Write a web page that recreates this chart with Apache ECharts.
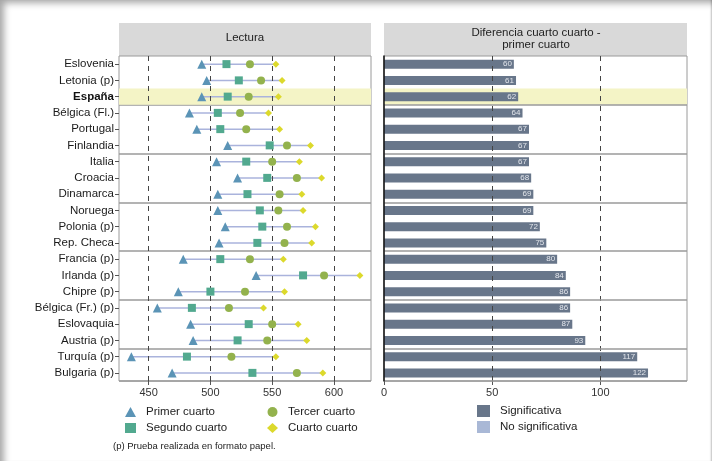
<!DOCTYPE html>
<html>
<head>
<meta charset="utf-8">
<script src="https://cdn.jsdelivr.net/npm/echarts@6/dist/echarts.min.js"></script>
<style>
  html, body { margin: 0; padding: 0; background: #fff; }
  #chart { position: absolute; left: 0; top: 0; width: 712px; height: 461px; }
  #marco { position: absolute; left: 0; top: 0; width: 712px; height: 461px; pointer-events: none;
           box-shadow: inset 7px 6px 7px -3px rgba(0,0,0,0.35), inset -2px 0 2px -1px rgba(0,0,0,0.25); }
</style>
</head>
<body>
<div id="chart"></div>
<div id="marco"></div>
<script>
// datos
const paises = ['Eslovenia', 'Letonia (p)', 'España', 'Bélgica (Fl.)', 'Portugal', 'Finlandia',
  'Italia', 'Croacia', 'Dinamarca', 'Noruega', 'Polonia (p)', 'Rep. Checa',
  'Francia (p)', 'Irlanda (p)', 'Chipre (p)', 'Bélgica (Fr.) (p)', 'Eslovaquia', 'Austria (p)',
  'Turquía (p)', 'Bulgaria (p)'];
const primer  = [493, 497, 493, 483, 489, 514, 505, 522, 506, 506, 512, 507, 478, 537, 474, 457, 484, 486, 436, 469];
const segundo = [513, 523, 514, 506, 508, 548, 529, 546, 530, 540, 542, 538, 508, 575, 500, 485, 531, 522, 481, 534];
const tercer  = [532, 541, 531, 524, 529, 562, 550, 570, 556, 555, 562, 560, 532, 592, 528, 515, 550, 546, 517, 570];
const cuarto  = [553, 558, 555, 547, 556, 581, 572, 590, 574, 575, 585, 582, 559, 621, 560, 543, 571, 578, 553, 591];
const diferencia = [60, 61, 62, 64, 67, 67, 67, 68, 69, 69, 72, 75, 80, 84, 86, 86, 87, 93, 117, 122];
const ticksLectura = [450, 500, 550, 600];
const ticksDif = [0, 50, 100];
const destacado = 'España';

const fuente = 'Liberation Sans, Arial, sans-serif';
const gris = '#9a9a9a';

const chart = echarts.init(document.getElementById('chart'));

const yCat = (show) => ({
  type: 'category', data: paises, inverse: true,
  axisLine: { show: !show, lineStyle: { color: '#111', width: 1.5 } },
  axisTick: { show: show, alignWithLabel: true, length: 4, lineStyle: { color: '#555' } },
  axisLabel: {
    show: show, fontFamily: fuente, fontSize: 11.5, color: '#1a1a1a', margin: 5,
    formatter: v => v === destacado ? '{b|' + v + '}' : v,
    rich: { b: { fontWeight: 'bold', fontFamily: fuente, fontSize: 11.5, color: '#111' } }
  },
  splitLine: { show: true, interval: i => i > 0 && i % 3 === 0, lineStyle: { color: gris, width: 1.5 } }
});

const punto = (name, datos, symbol, size, color) => ({
  name, type: 'scatter', xAxisIndex: 0, yAxisIndex: 0, symbol, symbolSize: size, z: 5,
  itemStyle: { color, opacity: 1 },
  data: datos.map((v, i) => [v, paises[i]])
});

chart.setOption({
  animation: false,
  textStyle: { fontFamily: fuente },
  grid: [
    { left: 119, top: 56, width: 252, height: 325, show: true, borderColor: gris, borderWidth: 1, backgroundColor: '#fff' },
    { left: 384, top: 56, width: 303, height: 325, show: true, borderColor: gris, borderWidth: 1, backgroundColor: '#fff' }
  ],
  graphic: [
    { type: 'rect', left: 119, top: 23, shape: { width: 252, height: 33 }, style: { fill: '#d9d9d9' }, z: -1 },
    { type: 'rect', left: 384, top: 23, shape: { width: 303, height: 33 }, style: { fill: '#d9d9d9' }, z: -1 },
    { type: 'text', x: 245, y: 38, style: { text: 'Lectura', fontFamily: fuente, fontSize: 11.5, fill: '#222', align: 'center', verticalAlign: 'middle' } },
    { type: 'text', x: 536, y: 39, style: { text: 'Diferencia cuarto cuarto -\nprimer cuarto', fontFamily: fuente, fontSize: 11.5, lineHeight: 12, fill: '#222', align: 'center', verticalAlign: 'middle' } },
    { type: 'text', x: 113, y: 446, style: { text: '(p) Prueba realizada en formato papel.', fontFamily: fuente, fontSize: 9.5, fill: '#222', verticalAlign: 'middle' } }
  ],
  xAxis: [
    { type: 'value', gridIndex: 0, min: 426, max: 630,
      axisLine: { show: false }, splitLine: { show: false },
      axisTick: { show: true, customValues: ticksLectura, length: 4, lineStyle: { color: '#555' } },
      axisLabel: { customValues: ticksLectura, fontSize: 11, color: '#333', margin: 6 } },
    { type: 'value', gridIndex: 1, min: 0, max: 140,
      axisLine: { show: false }, splitLine: { show: false },
      axisTick: { show: true, customValues: ticksDif, length: 4, lineStyle: { color: '#555' } },
      axisLabel: { customValues: ticksDif, fontSize: 11, color: '#333', margin: 6 } }
  ],
  yAxis: [
    Object.assign(yCat(true), { gridIndex: 0 }),
    Object.assign(yCat(false), { gridIndex: 1, z: 6 }),
    { type: 'category', gridIndex: 1, data: paises, inverse: true, show: false }
  ],
  legend: [
    { left: 120, top: 401, orient: 'vertical', itemGap: 4, itemWidth: 11, itemHeight: 10,
      textStyle: { fontSize: 11.5, color: '#222', padding: [0, 0, 0, 5] }, data: ['Primer cuarto', 'Segundo cuarto'] },
    { left: 262, top: 401, orient: 'vertical', itemGap: 4, itemWidth: 11, itemHeight: 10,
      textStyle: { fontSize: 11.5, color: '#222', padding: [0, 0, 0, 5] }, data: ['Tercer cuarto', 'Cuarto cuarto'] },
    { left: 472, top: 400, orient: 'vertical', itemGap: 4, itemWidth: 13, itemHeight: 12,
      textStyle: { fontSize: 11.5, color: '#222', padding: [0, 0, 0, 5] },
      data: [{ name: 'Significativa', icon: 'rect' }, { name: 'No significativa', icon: 'rect' }] }
  ],
  series: [
    { name: 'fondo1', type: 'bar', xAxisIndex: 0, yAxisIndex: 0, barWidth: '100%', silent: true, z: 0,
      itemStyle: { color: '#f4f4c6' },
      data: paises.map(p => p === destacado ? 630 : '-'),
      markLine: { silent: true, symbol: 'none', label: { show: false },
        lineStyle: { color: '#444', type: [5, 5], width: 1 },
        data: ticksLectura.map(v => ({ xAxis: v })) } },
    { name: 'rango', type: 'custom', xAxisIndex: 0, yAxisIndex: 0, z: 3, silent: true,
      data: paises.map((p, i) => [primer[i], cuarto[i], i]),
      encode: { x: [0, 1], y: 2 },
      renderItem: (params, api) => {
        const a = api.coord([api.value(0), api.value(2)]);
        const b = api.coord([api.value(1), api.value(2)]);
        return { type: 'line', shape: { x1: a[0], y1: a[1], x2: b[0], y2: b[1] },
          style: { stroke: '#aab3dc', lineWidth: 1.5 } };
      } },
    punto('Primer cuarto', primer, 'triangle', 9, '#5b94b6'),
    punto('Segundo cuarto', segundo, 'rect', 8, '#52a98f'),
    punto('Tercer cuarto', tercer, 'circle', 8, '#93b24d'),
    punto('Cuarto cuarto', cuarto, 'diamond', 7, '#dcd92c'),
    { name: 'fondo2', type: 'bar', xAxisIndex: 1, yAxisIndex: 2, barWidth: '100%', silent: true, z: 0,
      itemStyle: { color: '#f4f4c6' },
      data: paises.map(p => p === destacado ? 140 : '-'),
      markLine: { silent: true, symbol: 'none', label: { show: false },
        lineStyle: { color: '#444', type: [5, 5], width: 1 },
        data: [{ xAxis: 50 }, { xAxis: 100 }] } },
    { name: 'Significativa', type: 'bar', xAxisIndex: 1, yAxisIndex: 1, barWidth: 9, z: 4,
      itemStyle: { color: '#68768a' },
      label: { show: true, position: 'insideRight', distance: 2, fontSize: 8, color: '#e3e6ec' },
      data: diferencia },
    { name: 'No significativa', type: 'bar', xAxisIndex: 1, yAxisIndex: 1, barWidth: 9, barGap: '-100%',
      itemStyle: { color: '#a9b8d6' }, data: [] }
  ]
});
</script>
</body>
</html>
